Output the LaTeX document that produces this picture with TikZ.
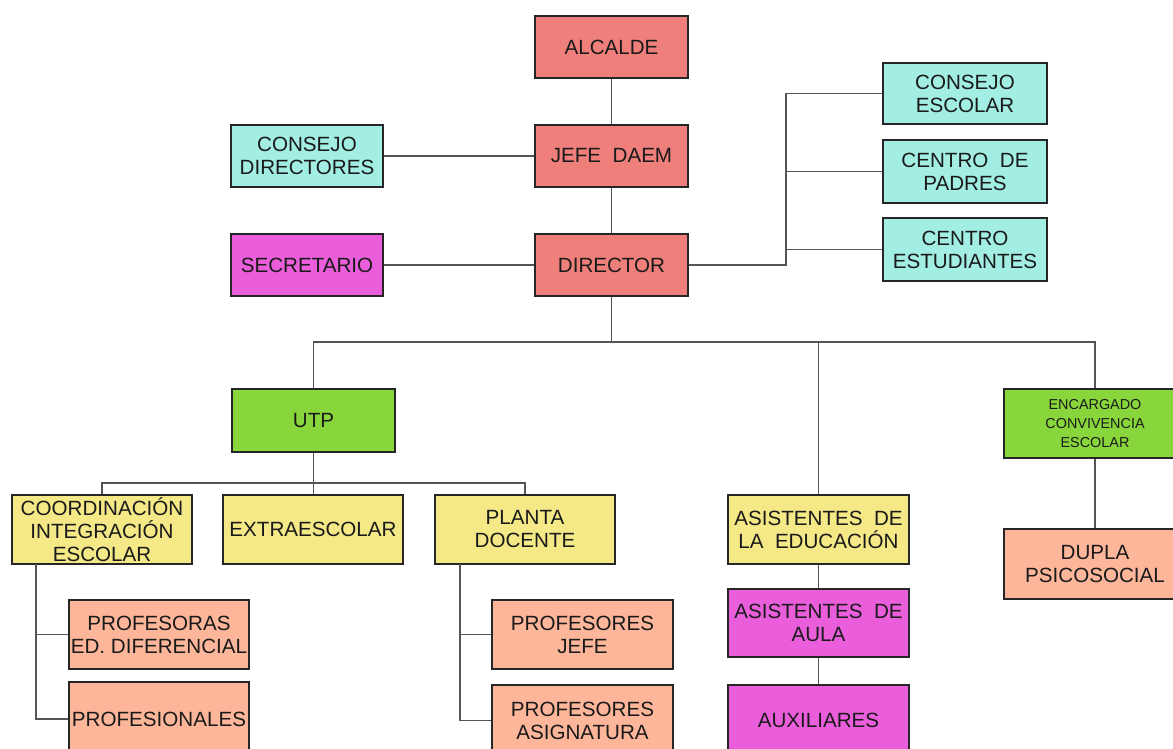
\documentclass[tikz,border=0pt]{standalone}
\usepackage{fontspec}
\setmainfont{Liberation Sans}
\usetikzlibrary{calc}
\definecolor{cred}{HTML}{EE7F7B}
\definecolor{ccyan}{HTML}{A2EEE3}
\definecolor{cmag}{HTML}{EA5EDC}
\definecolor{cgreen}{HTML}{88D63C}
\definecolor{cyel}{HTML}{F4E887}
\definecolor{csal}{HTML}{FDB69A}
\definecolor{cline}{HTML}{555555}
\definecolor{ctext}{HTML}{1A1A1A}
\tikzset{
  box/.style={draw=black!85,line width=1pt,inner sep=0pt,align=center,text=ctext,
    font=\fontsize{10.3}{11.5}\selectfont},
  small/.style={font=\fontsize{7.2}{9.5}\selectfont},
  conn/.style={draw=cline,line width=0.6pt}
}
\newcommand\obox[7]{\node[box,#6,minimum width={(#4-#2)*0.5pt},minimum height={(#5-#3)*0.5pt}] (#1) at ({(#2+#4)/2},{(#3+#5)/2}) {#7};}
\begin{document}
\begin{tikzpicture}[x={(0.5pt,0)},y={(0,-0.5pt)}]
\useasboundingbox (0,0) rectangle (1173,749);
\clip (0,0) rectangle (1173,749);
\fill[white] (0,0) rectangle (1173,749);
% top
\obox{alc}{535}{16}{688}{78}{fill=cred}{ALCALDE}
\obox{jefe}{535}{125}{688}{187}{fill=cred}{JEFE\ \ DAEM}
\obox{dir}{535}{234}{688}{296}{fill=cred}{DIRECTOR}
\obox{cdir}{231}{125}{383}{187}{fill=ccyan}{CONSEJO\\DIRECTORES}
\obox{sec}{231}{234}{383}{296}{fill=cmag}{SECRETARIO}
\obox{cesc}{883}{63}{1047}{124}{fill=ccyan}{CONSEJO\\ESCOLAR}
\obox{cpad}{883}{140}{1047}{203}{fill=ccyan}{CENTRO\ \ DE\\PADRES}
\obox{cest}{883}{218}{1047}{281}{fill=ccyan}{CENTRO\\ESTUDIANTES}
% second level
\obox{utp}{232}{389}{395}{452}{fill=cgreen}{UTP}
\obox{enc}{1004}{389}{1186}{458}{fill=cgreen,small}{ENCARGADO\\CONVIVENCIA\\ESCOLAR}
\obox{coord}{12}{495}{192}{564}{fill=cyel}{COORDINACIÓN\\INTEGRACIÓN\\ESCOLAR}
\obox{extra}{223}{495}{403}{564}{fill=cyel}{EXTRAESCOLAR}
\obox{planta}{435}{495}{615}{564}{fill=cyel}{PLANTA\\DOCENTE}
\obox{asis}{728}{495}{909}{564}{fill=cyel}{ASISTENTES\ \ DE\\LA\ \ EDUCACIÓN}
\obox{dupla}{1004}{529}{1186}{599}{fill=csal}{DUPLA\\PSICOSOCIAL}
% third level
\obox{pdif}{69}{600}{249}{669}{fill=csal}{PROFESORAS\\ED. DIFERENCIAL}
\obox{profs}{69}{682}{249}{756}{fill=csal}{PROFESIONALES}
\obox{pjefe}{492}{600}{673}{669}{fill=csal}{PROFESORES\\JEFE}
\obox{pasig}{492}{685}{673}{756}{fill=csal}{PROFESORES\\ASIGNATURA}
\obox{aula}{728}{589}{909}{657}{fill=cmag}{ASISTENTES\ \ DE\\AULA}
\obox{aux}{728}{685}{909}{756}{fill=cmag}{AUXILIARES}
% connectors
\coordinate (rb) at (786,265);
\coordinate (bus) at (611.5,342);
\coordinate (ub) at (313.5,483);
\coordinate (cv) at (36,564);
\coordinate (pv) at (460,564);
\path[conn] (alc.south) -- (jefe.north);
\path[conn] (jefe.south) -- (dir.north);
\path[conn] (cdir.east) -- (jefe.west);
\path[conn] (sec.east) -- (dir.west);
\path[conn] (dir.east) -- (rb) |- (cesc.west);
\path[conn] (rb) |- (cpad.west);
\path[conn] (rb) |- (cest.west);
\path[conn] (dir.south) -- (bus);
\path[conn] (utp.north) |- (bus) -| (enc.north);
\path[conn] (bus) -| (asis.north);
\path[conn] (utp.south) -- (utp.south |- extra.north);
\path[conn] (coord.north) |- (ub) -| (planta.north);
\path[conn] (cv) |- (pdif.west);
\path[conn] (cv) |- (profs.west);
\path[conn] (pv) |- (pjefe.west);
\path[conn] (pv) |- (pasig.west);
\path[conn] (asis.south) -- (aula.north);
\path[conn] (aula.south) -- (aux.north);
\path[conn] (enc.south) -- (dupla.north);
\end{tikzpicture}
\end{document}
